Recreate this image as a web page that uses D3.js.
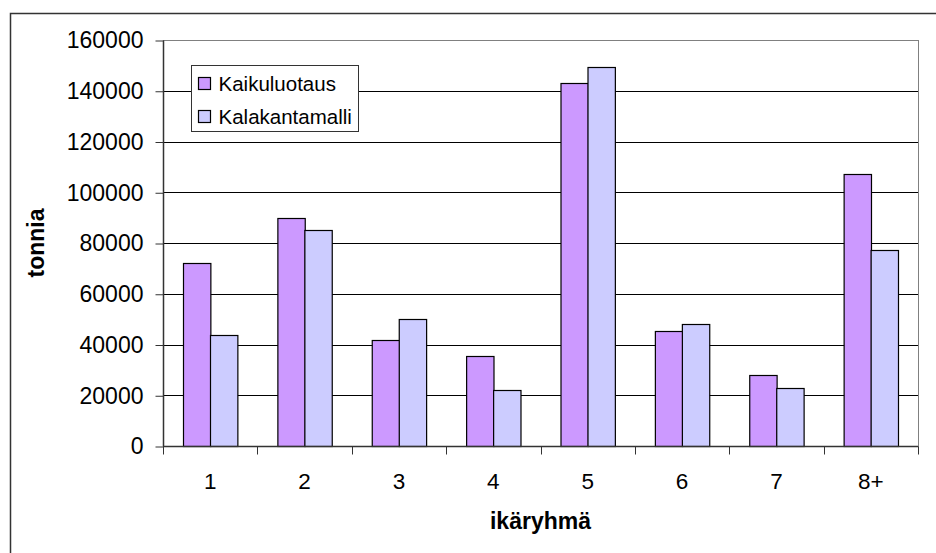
<!DOCTYPE html>
<html>
<head>
<meta charset="utf-8">
<script src="https://cdn.jsdelivr.net/npm/d3@7"></script>
<style>
  body { margin: 0; background: #fff; }
  svg { display: block; font-family: "Liberation Sans", Arial, sans-serif; }
</style>
</head>
<body>
<div id="chart"></div>
<script>
const categories = ['1', '2', '3', '4', '5', '6', '7', '8+'];
const seriesNames = ['Kaikuluotaus', 'Kalakantamalli'];
const kaikuluotaus = [72000, 89700, 41700, 35600, 143000, 45200, 28000, 107200];
const kalakantamalli = [43800, 85000, 50000, 22000, 149500, 48000, 23000, 77300];
const yTicks = [0, 20000, 40000, 60000, 80000, 100000, 120000, 140000, 160000];
const colors = ['#cc99ff', '#ccccff'];

const width = 936;
const height = 553;
const plot = { left: 163, right: 918, top: 40, bottom: 446 };

const svg = d3.select('#chart')
    .append('svg')
    .attr('width', width)
    .attr('height', height);

// outer chart border (runs off the right and bottom edges)
svg.append('rect')
    .attr('x', 10.5)
    .attr('y', 13.5)
    .attr('width', 960)
    .attr('height', 600)
    .attr('fill', '#fff')
    .attr('stroke', '#333')
    .attr('stroke-width', 1.5);

const x0 = d3.scaleBand()
    .domain(categories)
    .range([plot.left, plot.right])
    .padding(0);

const x1 = d3.scaleBand()
    .domain(seriesNames)
    .range([x0.bandwidth() * 0.21, x0.bandwidth() * 0.79])
    .padding(0);

const y = d3.scaleLinear()
    .domain([0, 160000])
    .range([plot.bottom, plot.top]);

// gridlines
svg.append('g')
    .selectAll('line')
    .data(yTicks.filter((d) => d > 0 && d < 160000))
    .enter()
    .append('line')
    .attr('x1', plot.left)
    .attr('x2', plot.right)
    .attr('y1', (d) => Math.round(y(d)) + 0.5)
    .attr('y2', (d) => Math.round(y(d)) + 0.5)
    .attr('stroke', '#000')
    .attr('stroke-width', 1);

// plot area border
svg.append('rect')
    .attr('x', plot.left + 0.5)
    .attr('y', plot.top + 0.5)
    .attr('width', plot.right - plot.left)
    .attr('height', plot.bottom - plot.top)
    .attr('fill', 'none')
    .attr('stroke', '#808080')
    .attr('stroke-width', 1);

// bars
const rows = categories.map((c, i) => ({
    category: c,
    values: [
        { name: seriesNames[0], value: kaikuluotaus[i], color: colors[0] },
        { name: seriesNames[1], value: kalakantamalli[i], color: colors[1] },
    ],
}));

svg.append('g')
    .selectAll('g')
    .data(rows)
    .enter()
    .append('g')
    .attr('transform', (d) => `translate(${x0(d.category)},0)`)
    .selectAll('rect')
    .data((d) => d.values)
    .enter()
    .append('rect')
    .attr('x', (d) => Math.round(x1(d.name)) + 0.5)
    .attr('y', (d) => Math.round(y(d.value)) + 0.5)
    .attr('width', x1.bandwidth())
    .attr('height', (d) => plot.bottom - Math.round(y(d.value)))
    .attr('fill', (d) => d.color)
    .attr('stroke', '#000')
    .attr('stroke-width', 1.2);

// Y axis
const yAxis = svg.append('g')
    .attr('transform', `translate(${plot.left + 0.5},0.5)`)
    .call(d3.axisLeft(y).tickValues(yTicks).tickSize(8).tickPadding(12).tickFormat(d3.format('d')));
yAxis.select('.domain').attr('stroke', '#333').attr('stroke-width', 1.5).attr('d', `M0,${plot.top}V${plot.bottom}`);
yAxis.selectAll('.tick line').attr('stroke', '#333');
yAxis.selectAll('.tick text')
    .attr('font-size', 23)
    .attr('fill', '#000')
    .attr('font-family', '"Liberation Sans", Arial, sans-serif');

// X axis: labels at category centres, tick marks at boundaries
const xAxis = svg.append('g')
    .attr('transform', `translate(0,${plot.bottom + 0.5})`)
    .call(d3.axisBottom(x0).tickSize(0).tickPadding(27));
xAxis.select('.domain').attr('stroke', '#333').attr('stroke-width', 1.5)
    .attr('d', `M${plot.left},0H${plot.right}`);
xAxis.selectAll('.tick text')
    .attr('font-size', 22.5)
    .attr('fill', '#000')
    .attr('font-family', '"Liberation Sans", Arial, sans-serif');
xAxis.selectAll('.boundary')
    .data(categories.map((c) => x0(c)).concat([plot.right]))
    .enter()
    .append('line')
    .attr('class', 'boundary')
    .attr('x1', (d) => Math.round(d) + 0.5)
    .attr('x2', (d) => Math.round(d) + 0.5)
    .attr('y1', 0)
    .attr('y2', 8)
    .attr('stroke', '#333');

// axis titles
svg.append('text')
    .attr('x', (plot.left + plot.right) / 2)
    .attr('y', 529)
    .attr('text-anchor', 'middle')
    .attr('font-size', 23)
    .attr('font-weight', 'bold')
    .text('ikäryhmä');

svg.append('text')
    .attr('transform', `translate(44,${(plot.top + plot.bottom) / 2}) rotate(-90)`)
    .attr('text-anchor', 'middle')
    .attr('font-size', 23)
    .attr('font-weight', 'bold')
    .text('tonnia');

// legend
const legend = svg.append('g').attr('transform', 'translate(191.5,65.5)');
legend.append('rect')
    .attr('width', 167)
    .attr('height', 66)
    .attr('fill', '#fff')
    .attr('stroke', '#333')
    .attr('stroke-width', 1);
const item = legend.selectAll('.item')
    .data(seriesNames)
    .enter()
    .append('g')
    .attr('class', 'item')
    .attr('transform', (d, i) => `translate(0,${18 + i * 33})`);
item.append('rect')
    .attr('x', 7)
    .attr('y', -6)
    .attr('width', 12)
    .attr('height', 12)
    .attr('fill', (d, i) => colors[i])
    .attr('stroke', '#000')
    .attr('stroke-width', 1.2);
item.append('text')
    .attr('x', 27)
    .attr('y', 7.5)
    .attr('font-size', 20.5)
    .text((d) => d);
</script>
</body>
</html>
